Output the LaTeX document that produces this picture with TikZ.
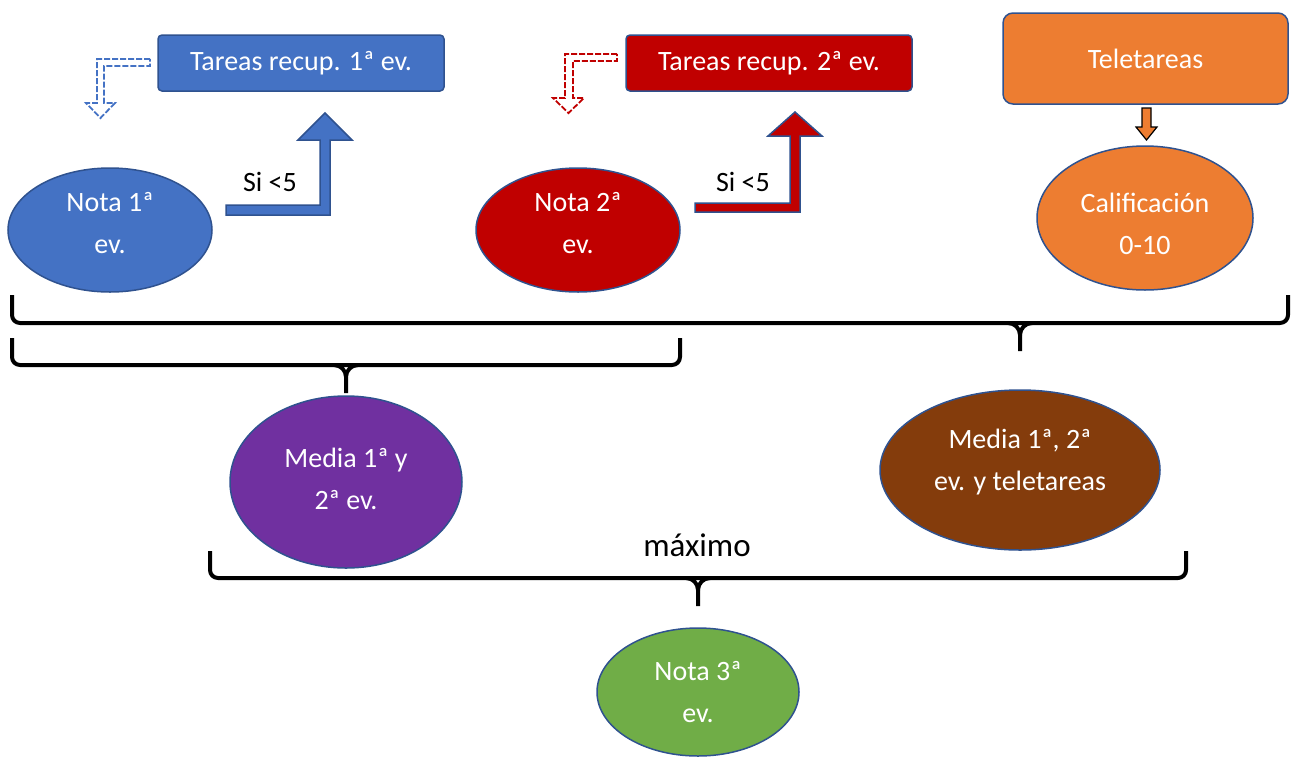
\documentclass[tikz,border=0pt]{standalone}
\usepackage{fontspec}
\setmainfont{Carlito}
\usetikzlibrary{shapes.geometric,positioning}
\definecolor{azul}{HTML}{4472C4}
\definecolor{borde}{HTML}{2F528F}
\definecolor{rojo}{HTML}{C00000}
\definecolor{naranja}{HTML}{ED7D31}
\definecolor{morado}{HTML}{7030A0}
\definecolor{marron}{HTML}{843C0C}
\definecolor{verde}{HTML}{70AD47}
\begin{document}
\begin{tikzpicture}[x=1pt,y=-1pt,
    every node/.style={font=\fontsize{28}{42}\selectfont},
    caja/.style={draw=borde,line width=1.5pt,rounded corners=4pt,text=white,
        minimum width=286pt,minimum height=56pt},
    elipse/.style={ellipse,draw=borde,line width=1.5pt,inner sep=0pt},
    blanco/.style={text=white,align=center,inner sep=0pt},
    llave/.style={line width=4pt,line join=round,rounded corners=8pt},
    flecha/.style={draw=borde,line width=1.5pt,line join=miter}]
    \useasboundingbox (0,0) rectangle (1293,756);
    % cajas
    \node[caja,fill=azul] (rec1) at (301,63) {Tareas recup. 1ª ev.};
    \node[caja,fill=rojo] (rec2) at (769,63) {Tareas recup. 2ª ev.};
    \node[caja,fill=naranja,rounded corners=10pt,minimum height=91pt,minimum width=285pt] (tele) at (1145.5,58.5) {Teletareas};
    % notas
    \node[elipse,fill=azul,minimum width=204pt,minimum height=124pt] (nota1) at (110,230) {};
    \node[elipse,fill=rojo,minimum width=204pt,minimum height=124pt] (nota2) at (578,230) {};
    \node[elipse,fill=naranja,minimum width=216pt,minimum height=144pt] (calif) at (1145,218) {};
    \node[elipse,fill=morado,minimum width=232pt,minimum height=172pt] (media1) at (346,482) {};
    \node[elipse,fill=marron,minimum width=280pt,minimum height=160pt] (media2) at (1020,470) {};
    \node[elipse,fill=verde,minimum width=202pt,minimum height=128pt] (nota3) at (698,692) {};
    \node[blanco] (tnota1) at ([yshift=7pt]nota1.center) {Nota 1ª\\ev.};
    \node[blanco] (tnota2) at ([yshift=7pt]nota2.center) {Nota 2ª\\ev.};
    \node[blanco] (tcalif) at ([yshift=-6pt]calif.center) {Calificación\\0-10};
    \node[blanco] (tmedia1) at ([yshift=3pt]media1.center) {Media 1ª y\\2ª ev.};
    \node[blanco] (tmedia2) at ([yshift=8pt]media2.center) {Media 1ª, 2ª\\ev. y teletareas};
    \node[blanco] (tnota3) at (nota3.center) {Nota 3ª\\ev.};
    % flechas dobladas
    \filldraw[flecha,fill=azul] (226,205) -- (320,205) -- (320,140) -- (298,140) -- (325,113)
        -- (352,140) -- (330,140) -- (330,215) -- (226,215) -- cycle;
    \filldraw[flecha,fill=rojo] (695,203) -- (790,203) -- (790,136) -- (768,136) -- (795,112)
        -- (822,136) -- (800,136) -- (800,212) -- (695,212) -- cycle;
    \node (si1) at (270,182) {Si <5};
    \node (si2) at (743,182) {Si <5};
    % flechas discontinuas
    \draw[azul,line width=1.8pt,dash pattern=on 6pt off 2pt] (150,59) -- (97,59) -- (97,103) -- (86,103)
        -- (100.5,118) -- (115,103) -- (104,103) -- (104,66) -- (150,66) -- cycle;
    \draw[rojo,line width=1.8pt,dash pattern=on 6pt off 2pt] (617,54) -- (565,54) -- (565,98) -- (553,98)
        -- (568.5,113) -- (584,98) -- (573,98) -- (573,61) -- (617,61) -- cycle;
    % flecha teletareas
    \filldraw[fill=naranja,draw=black,line width=1.2pt] (1142,108) -- (1151,108) -- (1151,127) -- (1157,127)
        -- (1146.5,140) -- (1136,127) -- (1142,127) -- cycle;
    % llaves
    \draw[llave] (12,295) -- (12,323) -- (1288,323) -- (1288,295);
    \draw[llave,rounded corners=0pt] (1008,323) to[out=0,in=90] (1020,335) -- (1020,351);
    \draw[llave,rounded corners=0pt] (1032,323) to[out=180,in=90] (1020,335);
    \draw[llave] (12,338) -- (12,365) -- (680,365) -- (680,338);
    \draw[llave,rounded corners=0pt] (334,365) to[out=0,in=90] (346,377) -- (346,393);
    \draw[llave,rounded corners=0pt] (358,365) to[out=180,in=90] (346,377);
    \draw[llave] (210,551) -- (210,578) -- (1186,578) -- (1186,551);
    \draw[llave,rounded corners=0pt] (686,578) to[out=0,in=90] (698,590) -- (698,606);
    \draw[llave,rounded corners=0pt] (710,578) to[out=180,in=90] (698,590);
    \node[font=\fontsize{33}{36}\selectfont] (max) at (697,545) {máximo};
\end{tikzpicture}
\end{document}
